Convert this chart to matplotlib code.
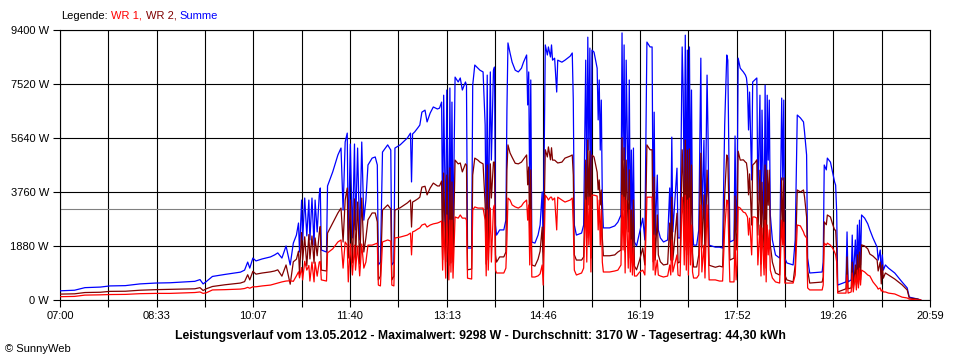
import numpy as np
import matplotlib
matplotlib.use("Agg")
import matplotlib.pyplot as plt

plt.rcParams["font.family"] = ["Liberation Sans", "DejaVu Sans"]

# minutes after 07:00
t_min = [
    0, 14, 24, 39, 48, 63, 77, 92, 106, 121,
    130, 135, 138, 141, 147, 159, 174, 178, 181, 183,
    186, 189, 195, 203, 207, 210, 214, 218, 222, 225,
    228, 230, 231, 233, 234, 236, 238, 240, 241, 243,
    245, 246, 248, 250, 251, 252, 257, 258, 263, 268,
    271, 273, 275, 277, 278, 280, 282, 284, 285, 287,
    289, 291, 293, 295, 297, 301, 304, 306, 307, 309,
    311, 316, 319, 320, 322, 323, 328, 335, 338, 339,
    340, 342, 345, 347, 349, 352, 354, 357, 360, 364,
    366, 368, 369, 370, 372, 373, 375, 376, 377, 378,
    379, 381, 384, 386, 388, 391, 392, 393, 397, 398,
    400, 403, 405, 408, 410, 411, 412, 413, 415, 416,
    418, 419, 420, 421, 424, 428, 430, 431, 432, 434,
    436, 439, 442, 445, 447, 450, 451, 452, 453, 454,
    455, 458, 461, 463, 465, 466, 468, 470, 471, 473,
    474, 475, 477, 479, 480, 484, 487, 492, 494, 495,
    496, 498, 503, 505, 507, 508, 509, 510, 511, 512,
    513, 515, 518, 519, 520, 521, 522, 523, 524, 530,
    535, 538, 541, 542, 543, 544, 545, 546, 548, 549,
    550, 551, 552, 553, 554, 556, 559, 562, 564, 566,
    569, 571, 572, 573, 574, 576, 577, 579, 582, 586,
    588, 589, 590, 591, 595, 596, 598, 600, 601, 602,
    603, 604, 605, 606, 607, 608, 609, 610, 611, 614,
    616, 618, 619, 621, 622, 624, 625, 626, 632, 636,
    639, 641, 643, 644, 645, 646, 650, 651, 652, 653,
    654, 656, 659, 661, 662, 663, 664, 665, 667, 668,
    670, 672, 673, 675, 676, 677, 679, 680, 681, 682,
    683, 684, 685, 687, 690, 694, 696, 697, 698, 699,
    701, 707, 709, 711, 714, 717, 718, 720, 721, 723,
    735, 736, 737, 739, 740, 743, 745, 747, 748, 749,
    750, 758, 759, 760, 763, 764, 765, 767, 768, 769,
    770, 771, 772, 773, 776, 779, 781, 784, 788, 789,
    791, 792, 793, 794, 796, 799, 805, 812, 817, 819,
    827, 830,
]

summe = [
    320, 340, 430, 450, 490, 500, 560, 590, 600, 630,
    650, 710, 560, 640, 820, 890, 970, 1040, 1320, 1110,
    1460, 1360, 1430, 1500, 1570, 1640, 1460, 1880, 1220, 1980,
    2260, 2680, 1670, 3480, 2090, 3550, 2230, 3480, 2090, 3550,
    1910, 3480, 2370, 3650, 3900, 1740, 1670, 3970, 4460, 5050,
    5290, 3130, 5500, 5810, 2090, 5430, 2160, 5430, 2440, 5290,
    2090, 5500, 2780, 3480, 4700, 4940, 4980, 4700, 1220, 1320,
    5150, 5400, 5220, 1220, 1320, 5290, 5400, 5640, 5810, 4110,
    5780, 5850, 5990, 6090, 6540, 6610, 6200, 6510, 6720, 6650,
    6680, 6890, 2440, 7130, 2090, 7310, 1910, 7380, 2260, 6890,
    2090, 7760, 7590, 7730, 7310, 7590, 7480, 1810, 1810, 7480,
    8180, 8070, 8000, 7940, 6090, 2090, 7830, 2440, 7940, 4870,
    8000, 8110, 2610, 2260, 2440, 2440, 2780, 6610, 8950, 8600,
    8280, 8000, 7940, 8070, 8280, 8530, 6790, 7940, 3480, 7660,
    2020, 1980, 2260, 2610, 3760, 1670, 8880, 8530, 8810, 8460,
    8880, 8350, 8420, 7240, 8350, 8280, 8350, 8490, 8600, 6960,
    2610, 2260, 2330, 2610, 8350, 3480, 9150, 5220, 8770, 2440,
    8700, 8630, 8070, 6270, 7660, 5220, 6960, 3480, 2510, 2510,
    2580, 2710, 2960, 9298, 4870, 8880, 2610, 8350, 3480, 7660,
    2440, 5220, 2160, 5290, 2020, 1880, 2370, 2850, 2090, 8980,
    8810, 8810, 2370, 6540, 2260, 4350, 2440, 2160, 2020, 2090,
    3900, 2260, 5670, 2370, 4590, 2160, 2160, 8810, 7240, 3480,
    9220, 2780, 8700, 2440, 8810, 3480, 7310, 2610, 1910, 1910,
    2440, 8420, 2780, 5570, 2090, 7830, 5640, 1910, 1840, 1840,
    1810, 6090, 8530, 8350, 5220, 2020, 2090, 5710, 2440, 3550,
    8420, 8070, 7940, 7830, 7730, 7380, 5920, 7240, 4180, 7590,
    7660, 7730, 3480, 7130, 2090, 6610, 2440, 7480, 1740, 7130,
    4870, 6960, 2960, 2090, 1570, 1460, 7030, 4180, 6960, 1460,
    1290, 1220, 2090, 6440, 6340, 6200, 5850, 5050, 1460, 940,
    975, 1320, 4700, 4530, 4940, 4800, 4460, 4110, 4000, 3060,
    520, 630, 2370, 630, 700, 2260, 700, 2090, 870, 2610,
    975, 2780, 1220, 2960, 2850, 2650, 2440, 2160, 1840, 1390,
    1740, 870, 1570, 1040, 1220, 1110, 940, 630, 420, 100,
    35, 0,
]

wr2 = [
    205, 215, 260, 270, 300, 305, 340, 360, 370, 380,
    390, 430, 330, 390, 470, 530, 590, 640, 880, 700,
    1000, 900, 940, 980, 1010, 1050, 830, 1220, 550, 1330,
    1420, 1700, 900, 2350, 1390, 2200, 1190, 2280, 1430, 2230,
    1280, 2160, 1540, 2330, 2560, 1040, 1010, 2330, 2680, 3030,
    3200, 2020, 3480, 3900, 1460, 3480, 1290, 3520, 1400, 3410,
    1250, 3550, 1670, 2160, 2790, 3030, 3030, 2720, 700, 830,
    3130, 3310, 3170, 700, 830, 3130, 3210, 3380, 3480, 2540,
    3410, 3450, 3520, 3580, 3930, 3960, 3660, 3900, 4070, 3970,
    3970, 4140, 1400, 4420, 1330, 4350, 1210, 4600, 1290, 4110,
    1330, 4870, 4740, 4770, 4460, 4740, 4700, 1050, 1080, 4350,
    4940, 4870, 4800, 4740, 3310, 1250, 4700, 1400, 4740, 3550,
    4800, 4800, 1570, 1320, 1500, 1500, 1670, 4520, 5400, 5120,
    4970, 4760, 4740, 4800, 4900, 5050, 4010, 4630, 2260, 4530,
    1220, 1180, 1420, 1700, 2540, 1150, 5230, 4980, 5330, 4880,
    5300, 4870, 4870, 4800, 4770, 4800, 4940, 5010, 5050, 4350,
    1570, 1390, 1390, 1500, 4870, 2160, 5570, 3310, 5190, 1460,
    5050, 4980, 4450, 3830, 4180, 3310, 3830, 2160, 1540, 1540,
    1570, 1670, 1740, 5650, 3130, 5300, 1670, 4870, 2370, 4530,
    1460, 3130, 1290, 3480, 1180, 1050, 1400, 1810, 1220, 5400,
    5230, 5230, 1330, 4280, 1390, 2960, 1570, 1330, 1220, 1250,
    2680, 1390, 3580, 1390, 3020, 1290, 1330, 5230, 4280, 2260,
    5570, 1740, 5220, 1570, 5260, 2260, 4700, 1640, 1150, 1150,
    1570, 5110, 1810, 3660, 1330, 4520, 3550, 1210, 1140, 1180,
    1150, 3650, 5050, 4940, 3310, 1390, 1460, 3620, 1740, 2330,
    5180, 4870, 4880, 4800, 4770, 4490, 3660, 4390, 2610, 4700,
    4770, 4880, 2260, 4520, 1250, 4100, 1570, 4700, 1110, 4520,
    3300, 4520, 1920, 1320, 940, 870, 4250, 2270, 4250, 870,
    700, 630, 1220, 3830, 3760, 3830, 3590, 2890, 1040, 590,
    625, 800, 2720, 2620, 2960, 2890, 2650, 2440, 2430, 1740,
    280, 390, 1500, 390, 420, 1320, 420, 1220, 520, 1570,
    555, 1670, 700, 1920, 1880, 1780, 1600, 1530, 1390, 1010,
    1320, 560, 1220, 760, 940, 870, 730, 530, 350, 70,
    35, 0,
]

wr1 = [
    115, 125, 170, 180, 190, 195, 220, 230, 230, 250,
    260, 280, 230, 250, 350, 360, 380, 400, 440, 410,
    460, 460, 490, 520, 560, 590, 630, 660, 670, 650,
    840, 980, 770, 1130, 700, 1350, 1040, 1200, 660, 1320,
    630, 1320, 830, 1320, 1340, 700, 660, 1640, 1780, 2020,
    2090, 1110, 2020, 1910, 630, 1950, 870, 1910, 1040, 1880,
    840, 1950, 1110, 1320, 1910, 1910, 1950, 1980, 520, 490,
    2020, 2090, 2050, 520, 490, 2160, 2190, 2260, 2330, 1570,
    2370, 2400, 2470, 2510, 2610, 2650, 2540, 2610, 2650, 2680,
    2710, 2750, 1040, 2710, 760, 2960, 700, 2780, 970, 2780,
    760, 2890, 2850, 2960, 2850, 2850, 2780, 760, 730, 3130,
    3240, 3200, 3200, 3200, 2780, 840, 3130, 1040, 3200, 1320,
    3200, 3310, 1040, 940, 940, 940, 1110, 2090, 3550, 3480,
    3310, 3240, 3200, 3270, 3380, 3480, 2780, 3310, 1220, 3130,
    800, 800, 840, 910, 1220, 520, 3650, 3550, 3480, 3580,
    3580, 3480, 3550, 2440, 3580, 3480, 3410, 3480, 3550, 2610,
    1040, 870, 940, 1110, 3480, 1320, 3580, 1910, 3580, 975,
    3650, 3650, 3620, 2440, 3480, 1910, 3130, 1320, 975, 975,
    1010, 1040, 1220, 3650, 1740, 3580, 940, 3480, 1110, 3130,
    975, 2090, 870, 1810, 835, 835, 975, 1040, 870, 3580,
    3580, 3580, 1040, 2260, 870, 1390, 870, 835, 800, 835,
    1220, 870, 2090, 975, 1570, 870, 835, 3580, 2960, 1220,
    3650, 1040, 3480, 870, 3550, 1220, 2610, 975, 765, 765,
    870, 3310, 975, 1910, 765, 3310, 2090, 700, 700, 660,
    660, 2440, 3480, 3410, 1910, 630, 630, 2090, 700, 1220,
    3240, 3200, 3060, 3030, 2960, 2890, 2260, 2850, 1570, 2890,
    2890, 2850, 1220, 2610, 835, 2510, 870, 2780, 630, 2610,
    1570, 2440, 1040, 765, 630, 590, 2780, 1910, 2710, 590,
    590, 590, 870, 2610, 2580, 2370, 2260, 2160, 420, 350,
    350, 520, 1980, 1910, 1980, 1910, 1810, 1670, 1570, 1320,
    240, 240, 870, 240, 280, 940, 280, 870, 350, 1040,
    420, 1110, 520, 1040, 975, 870, 835, 630, 450, 380,
    420, 310, 350, 280, 280, 240, 210, 100, 70, 30,
    0, 0,
]

AVG = 3170
DAY_MINUTES = 839
x_labels = ["07:00", "08:33", "10:07", "11:40", "13:13",
            "14:46", "16:19", "17:52", "19:26", "20:59"]
y_ticks = [0, 1880, 3760, 5640, 7520, 9400]

title = ("Leistungsverlauf vom 13.05.2012 - Maximalwert: 9298 W - "
         "Durchschnitt: 3170 W - Tagesertrag: 44,30 kWh")

fig = plt.figure(figsize=(9.6, 3.6), dpi=100)
ax = fig.add_axes([60 / 960, 60 / 360, 870 / 960, 270 / 360])

ax.axhline(AVG, color="#808080", lw=0.8, zorder=2)
ax.plot(t_min, summe, color="#0000ff", lw=0.9, zorder=3)
ax.plot(t_min, wr2, color="#800000", lw=0.9, zorder=4)
ax.plot(t_min, wr1, color="#ff0000", lw=0.9, zorder=5)

xt = np.linspace(0, DAY_MINUTES, 19)
ax.set_xticks(xt)
ax.set_xticklabels([x_labels[i // 2] if i % 2 == 0 else "" for i in range(19)])
ax.set_yticks(y_ticks)
ax.set_yticklabels([f"{v} W" for v in y_ticks])
ax.set_xlim(0, DAY_MINUTES)
ax.set_ylim(0, 9400)

ax.grid(True, color="black", lw=0.8, zorder=1)
ax.set_axisbelow(True)
ax.tick_params(length=5, width=0.8, color="black", labelsize=8, pad=3)
for s in ax.spines.values():
    s.set_color("black")
    s.set_linewidth(0.8)

fig.text(0.5, 24 / 360, title, ha="center", va="center", fontsize=8.8, fontweight="bold")
fig.text(5 / 960, 11 / 360, "\u00a9 SunnyWeb", ha="left", va="center", fontsize=8)

# multicoloured legend line
fig.canvas.draw()
r = fig.canvas.get_renderer()
x = 61 / 960
for txt, col in [("Legende:", "black"), ("WR 1,", "#ff0000"),
                 ("WR 2,", "#800000"), ("Summe", "#0000ff")]:
    t = fig.text(x, 1 - 16 / 360, txt, color=col, fontsize=8, ha="left", va="center")
    x += (t.get_window_extent(r).width + 3.5) / 960

fig.savefig("out.png", dpi=100, facecolor="white")
